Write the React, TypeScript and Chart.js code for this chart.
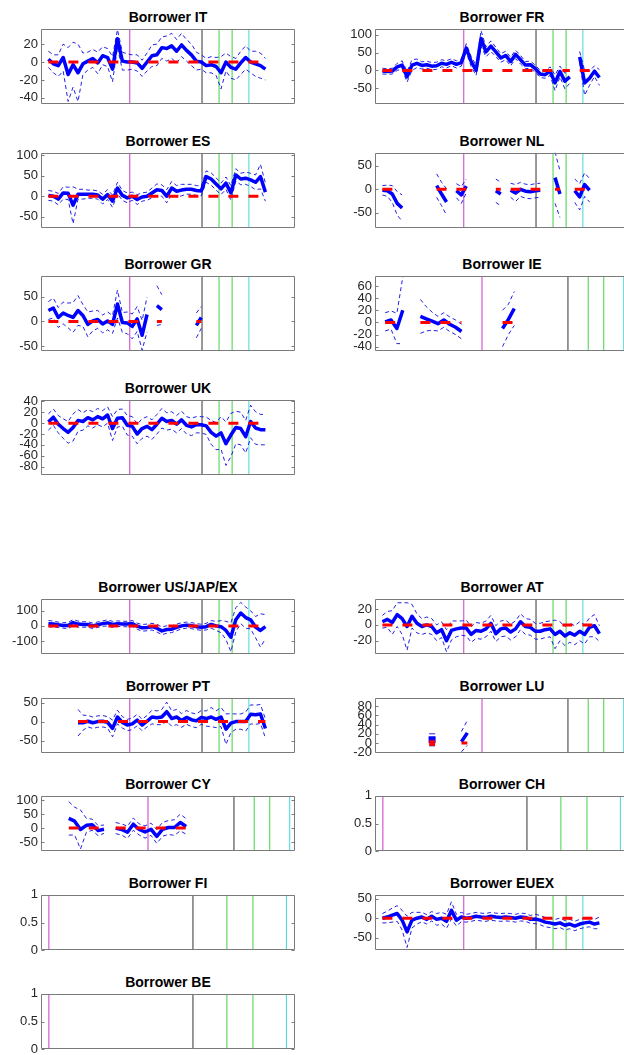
import React, { useEffect, useRef } from "react";
import { Chart, registerables } from "chart.js";
Chart.register(...registerables);

const FONT = '"Liberation Sans", Arial, Helvetica, sans-serif';

// time index (months) of the sampled estimates
const months = [3, 5, 7, 9, 11, 13, 15, 17, 19, 21, 23, 25, 27, 29, 31, 33, 35, 37, 39, 41, 43, 45, 47, 49, 51, 53, 55, 57, 59, 61, 63, 65, 67, 69, 71, 73, 75, 77, 79, 81, 83, 85, 87, 89, 91];
// event markers (months)
const eventMonths = [36, 65.3, 72.2, 77.5, 84.3];
const eventColors = ["#c83cc8", "#333333", "#44d044", "#44d044", "#44d8d8"];
const xRanges: Record<string, number[]> = { A: [0, 103], B: [-0.46, 86.1], C: [34.4, 86.05] };

const N = null;

const itEst = [3, -2, -4, 5, -14, -3, -12, -2, 1, 4, -1, 7, 5, -8, 26, 1, 0, 0, -1, -7, 0, 7, 8, 16, 15, 18, 12, 19, 13, 8, 1, 0, -4, -3, -5, -12, 0, -6, -8, -1, 5, 0, -2, -4, -8];
const itSe = [9, 10, 12, 15, 30, 25, 32, 12, 10, 10, 12, 10, 10, 14, 10, 10, 9, 8, 9, 9, 10, 12, 12, 12, 14, 14, 13, 13, 12, 12, 10, 8, 8, 9, 10, 18, 10, 12, 12, 13, 13, 12, 14, 14, 12];
const itTicks = [-40, -20, 0, 20];
const itLim = [-47, 37];

const frEst = [-2, -3, -2, 10, 15, -18, 15, 20, 14, 16, 12, 13, 20, 17, 23, 17, 22, 63, 25, 0, 90, 52, 68, 52, 35, 42, 25, 45, 30, 15, 16, 5, -10, -12, -2, -35, -3, -30, -18, N, 38, -35, -22, -2, -20];
const frSe = [8, 8, 8, 10, 12, 15, 15, 12, 10, 10, 10, 10, 10, 10, 10, 10, 10, 12, 14, 14, 22, 14, 15, 13, 12, 12, 12, 12, 12, 10, 10, 10, 10, 10, 12, 22, 15, 22, 18, N, 15, 35, 20, 15, 22];
const frTicks = [-50, 0, 50, 100];
const frLim = [-95, 117];

const esEst = [2, 0, -7, 8, 7, -22, 5, 5, 5, 5, 3, -7, 4, -12, 20, 2, -4, 0, -8, -2, 0, 8, 16, 14, 0, 20, 12, 15, 17, 17, 14, 13, 48, 42, 30, 18, 32, 8, 52, 42, 44, 40, 34, 48, 10];
const esSe = [12, 12, 14, 15, 15, 45, 12, 12, 10, 10, 10, 12, 12, 15, 14, 12, 12, 10, 12, 10, 10, 12, 14, 14, 16, 16, 14, 14, 12, 12, 12, 12, 14, 15, 15, 14, 15, 18, 15, 14, 15, 16, 18, 30, 22];
const esTicks = [-50, 0, 50, 100];
const esLim = [-78, 106];

const nlEst = [-2, -3, -10, -30, -40, N, N, N, N, N, N, 8, -10, -27, N, -3, -12, 7, N, N, N, N, N, -3, -10, N, -2, -8, 0, -4, -5, -3, -2, N, N, 25, -10, N, N, -3, -16, 10, -2, N, N];
const nlSe = [10, 12, 18, 25, 28, N, N, N, N, N, N, 25, 25, 28, N, 15, 18, 15, N, N, N, N, N, 25, 25, N, 15, 18, 15, 15, 15, 15, 15, N, N, 55, 50, N, N, 25, 28, 25, 25, N, N];
const nlTicks = [-50, 0, 50];
const nlLim = [-83, 78];

const grEst = [22, 27, 8, 17, 12, 8, 22, 12, -6, 1, 4, -5, 1, -6, 35, -2, -3, -10, 5, -28, 14, N, 32, 24, N, N, N, N, N, N, -8, 8, N, N, N, N, N, N, N, N, N, N, N, N, N];
const grSe = [18, 20, 20, 22, 25, 30, 30, 22, 25, 20, 18, 18, 18, 18, 28, 20, 22, 25, 25, 30, 35, N, 40, 30, N, N, N, N, N, N, 25, 22, N, N, N, N, N, N, N, N, N, N, N, N, N];
const grTicks = [-50, 0, 50];
const grLim = [-60, 92];

const ieEst = [1, 4, -10, 20, N, N, 10, 6, 2, -2, 4, -3, -8, -15, N, N, N, N, N, N, -10, 5, 23, N, N, N, N, N, N, N, N, N, N, N, N, N, N, N, N, N, N, N, N, N, N];
const ieSe = [15, 15, 25, 55, N, N, 28, 20, 15, 12, 12, 12, 12, 12, N, N, N, N, N, N, 30, 25, 28, N, N, N, N, N, N, N, N, N, N, N, N, N, N, N, N, N, N, N, N, N, N];
const ieTicks = [-40, -20, 0, 20, 40, 60];
const ieLim = [-47.5, 77];

const ukEst = [2, 11, -2, -10, -17, -8, 5, 3, 10, 6, 12, 8, 15, -10, 9, 10, -4, -6, -20, -10, -6, -12, -2, 9, 3, 5, -2, 6, -4, -7, -3, -3, -5, -17, -24, -18, -38, -22, -8, -10, -25, 3, -9, -12, -12];
const ukSe = [15, 15, 16, 18, 20, 25, 20, 16, 15, 15, 15, 15, 15, 22, 16, 16, 18, 18, 18, 18, 18, 18, 18, 18, 16, 16, 16, 16, 16, 16, 15, 15, 16, 22, 25, 30, 40, 40, 30, 30, 30, 30, 30, 28, 28];
const ukTicks = [-80, -60, -40, -20, 0, 20, 40];
const ukLim = [-96, 43];

const usEst = [15, 12, 7, 3, 2, 22, 12, 9, 10, 0, 8, 15, 20, 10, 15, 13, 12, 16, -2, -13, -10, -5, -15, -33, -24, -22, -10, 0, 5, 2, -5, -9, -5, 10, 0, -5, -30, -75, 40, 85, 55, 40, -8, -30, -5];
const usSe = [20, 20, 18, 18, 20, 20, 20, 18, 18, 18, 18, 18, 20, 20, 18, 18, 18, 20, 20, 22, 22, 22, 25, 25, 25, 22, 22, 20, 20, 20, 20, 20, 22, 25, 30, 40, 60, 95, 80, 70, 70, 60, 70, 110, 80];
const usTicks = [-100, 0, 100];
const usLim = [-187, 179];

const atEst = [4, 7, 3, 13, 8, -2, 11, 2, -2, 0, -2, -10, -6, -20, -7, -5, -4, -4, -12, -7, -8, -5, 2, -11, -5, -4, -9, -5, 4, -2, -3, -8, -8, -6, -5, -12, -8, -14, -10, -13, -8, -12, -3, -1, -11];
const atSe = [8, 10, 15, 15, 20, 30, 15, 12, 10, 10, 10, 10, 10, 14, 12, 10, 9, 10, 10, 10, 10, 10, 10, 10, 10, 10, 10, 10, 10, 10, 10, 10, 10, 10, 10, 18, 12, 12, 12, 12, 12, 12, 12, 14, 10];
const atTicks = [-20, 0, 20];
const atLim = [-37, 33];

const ptEst = [N, N, N, N, N, N, -3, -3, 1, -3, 0, 1, -2, -18, 12, -2, -9, -6, 4, -9, 1, 12, 10, 12, 26, 8, 12, 3, 11, 5, 2, 11, 8, 12, 6, 12, -20, -4, 0, 0, 0, 19, 18, 20, -18];
const ptSe = [N, N, N, N, N, N, 35, 20, 15, 15, 15, 15, 15, 22, 18, 15, 15, 15, 15, 15, 15, 18, 18, 20, 25, 20, 20, 18, 18, 18, 18, 18, 20, 25, 22, 25, 40, 25, 20, 20, 25, 25, 25, 25, 25];
const ptTicks = [-50, 0, 50];
const ptLim = [-83, 62.5];

const luEst = [N, N, N, N, N, N, N, N, 7, N, N, N, N, 3, 22, N, N, N, N, N, N, N, N, N, N, N, N, N, N, N, N, N, N, N, N, N, N, N, N, N, N, N, N, N, N];
const luSe = [N, N, N, N, N, N, N, N, 13, N, N, N, N, 22, 27, N, N, N, N, N, N, N, N, N, N, N, N, N, N, N, N, N, N, N, N, N, N, N, N, N, N, N, N, N, N];
const luTicks = [-20, 0, 20, 40, 60, 80];
const luLim = [-22, 98];

const cyEst = [N, N, N, 35, 25, -5, 10, 12, -9, -4, N, 0, -5, -15, 14, -5, -14, -4, -30, -4, 2, 2, 20, 6, N, N, N, N, N, N, N, N, N, N, N, N, N, N, N, N, N, N, N, N, N];
const cySe = [N, N, N, 60, 50, 70, 25, 20, 18, 15, N, 20, 20, 22, 22, 20, 22, 22, 25, 25, 25, 28, 30, 28, N, N, N, N, N, N, N, N, N, N, N, N, N, N, N, N, N, N, N, N, N];
const cyTicks = [-50, 0, 50, 100];
const cyLim = [-83, 116];

const euexEst = [0, 3, 8, 12, -5, -35, -5, 0, 3, -3, 5, -3, 0, -8, 20, -5, 3, 0, 2, 5, 3, 2, 5, 3, 2, 3, 2, 0, 3, 2, -3, -2, -5, -10, -12, -15, -12, -18, -15, -20, -15, -12, -10, -15, -12];
const euexSe = [12, 15, 18, 20, 25, 40, 20, 15, 12, 12, 12, 15, 15, 18, 22, 15, 12, 10, 10, 10, 10, 10, 10, 10, 10, 10, 10, 10, 10, 10, 10, 12, 12, 12, 12, 12, 12, 12, 12, 12, 12, 12, 12, 12, 15];
const euexTicks = [-50, 0, 50];
const euexLim = [-82, 60];

const unitTicks = [0, 0.5, 1];
const unitLim = [0, 1];

type PanelDef = {
  title: string;
  est: (number | null)[] | null;
  se: (number | null)[] | null;
  ticks: number[];
  ylim: number[];
  xr: string;
  col: number;
  top: number;
  h: number;
};

const panels: PanelDef[] = [
  { title: "Borrower IT", est: itEst, se: itSe, ticks: itTicks, ylim: itLim, xr: "A", col: 0, top: 28, h: 77 },
  { title: "Borrower FR", est: frEst, se: frSe, ticks: frTicks, ylim: frLim, xr: "A", col: 1, top: 28, h: 77 },
  { title: "Borrower ES", est: esEst, se: esSe, ticks: esTicks, ylim: esLim, xr: "A", col: 0, top: 152, h: 77 },
  { title: "Borrower NL", est: nlEst, se: nlSe, ticks: nlTicks, ylim: nlLim, xr: "A", col: 1, top: 152, h: 77 },
  { title: "Borrower GR", est: grEst, se: grSe, ticks: grTicks, ylim: grLim, xr: "A", col: 0, top: 275, h: 77 },
  { title: "Borrower IE", est: ieEst, se: ieSe, ticks: ieTicks, ylim: ieLim, xr: "B", col: 1, top: 275, h: 77 },
  { title: "Borrower UK", est: ukEst, se: ukSe, ticks: ukTicks, ylim: ukLim, xr: "A", col: 0, top: 399, h: 77 },
  { title: "Borrower US/JAP/EX", est: usEst, se: usSe, ticks: usTicks, ylim: usLim, xr: "A", col: 0, top: 598, h: 57 },
  { title: "Borrower AT", est: atEst, se: atSe, ticks: atTicks, ylim: atLim, xr: "A", col: 1, top: 598, h: 57 },
  { title: "Borrower PT", est: ptEst, se: ptSe, ticks: ptTicks, ylim: ptLim, xr: "A", col: 0, top: 697, h: 57 },
  { title: "Borrower LU", est: luEst, se: luSe, ticks: luTicks, ylim: luLim, xr: "B", col: 1, top: 697, h: 57 },
  { title: "Borrower CY", est: cyEst, se: cySe, ticks: cyTicks, ylim: cyLim, xr: "B", col: 0, top: 795, h: 57 },
  { title: "Borrower CH", est: null, se: null, ticks: unitTicks, ylim: unitLim, xr: "C", col: 1, top: 795, h: 57 },
  { title: "Borrower FI", est: null, se: null, ticks: unitTicks, ylim: unitLim, xr: "C", col: 0, top: 894, h: 57 },
  { title: "Borrower EUEX", est: euexEst, se: euexSe, ticks: euexTicks, ylim: euexLim, xr: "A", col: 1, top: 894, h: 57 },
  { title: "Borrower BE", est: null, se: null, ticks: unitTicks, ylim: unitLim, xr: "C", col: 0, top: 993, h: 57 },
];

const PLOT_W = 254;
const COL_CANVAS_LEFT = [0, 312];
const COL_PLOT_LEFT = [41, 375];
const PAD = 10;

const framePlugin = {
  id: "matlabFrame",
  afterDatasetsDraw(chart: any) {
    const { ctx, chartArea: a, scales } = chart;
    ctx.save();
    ctx.strokeStyle = "#7a7a7a";
    ctx.lineWidth = 1;
    const l = Math.round(a.left) + 0.5;
    const r = Math.round(a.right) - 0.5;
    const t = Math.round(a.top) + 0.5;
    const b = Math.round(a.bottom) - 0.5;
    ctx.beginPath();
    ctx.rect(l, t, r - l, b - t);
    const ys = scales.y;
    ys.ticks.forEach((tk: any) => {
      const py = Math.round(ys.getPixelForValue(tk.value)) + 0.5;
      ctx.moveTo(l, py);
      ctx.lineTo(l + 3, py);
      ctx.moveTo(r, py);
      ctx.lineTo(r - 3, py);
    });
    ctx.stroke();
    ctx.restore();
  },
};

function Panel({ p }: { p: PanelDef }) {
  const ref = useRef<HTMLCanvasElement>(null);
  const canvasLeft = COL_CANVAS_LEFT[p.col];
  const plotLeft = COL_PLOT_LEFT[p.col];
  const W = plotLeft - canvasLeft + PLOT_W + (p.col === 0 ? 17 : 0);
  const H = p.h + 2 * PAD;

  useEffect(() => {
    const [xmin, xmax] = xRanges[p.xr];
    const [ymin, ymax] = p.ylim;
    const toPts = (arr: (number | null)[]) => months.map((m, i) => ({ x: m, y: arr[i] }));
    const iso = (arr: (number | null)[], r: number) => (c: any) => {
      const i = c.dataIndex;
      if (arr[i] == null) return 0;
      const prev = i > 0 ? arr[i - 1] : null;
      const next = i < arr.length - 1 ? arr[i + 1] : null;
      return prev == null && next == null ? r : 0;
    };
    const datasets: any[] = [];
    eventMonths.forEach((e, k) => {
      datasets.push({
        data: [{ x: e, y: ymin }, { x: e, y: ymax }],
        borderColor: eventColors[k],
        borderWidth: 1,
        pointRadius: 0,
        order: 5,
      });
    });
    if (p.est && p.se) {
      const est = p.est;
      const se = p.se;
      const upper = est.map((v, i) => (v == null || se[i] == null ? null : v + (se[i] as number)));
      const lower = est.map((v, i) => (v == null || se[i] == null ? null : v - (se[i] as number)));
      const zero = est.map((v) => (v == null ? null : 0));
      const bandColor = "rgba(10,10,225,0.9)";
      [upper, lower].forEach((arr) => {
        datasets.push({
          data: toPts(arr),
          borderColor: bandColor,
          borderWidth: 1,
          borderDash: [4, 3],
          pointStyle: "line",
          pointBorderColor: bandColor,
          pointBorderWidth: 1,
          pointRadius: iso(arr, 3),
          order: 3,
        });
      });
      datasets.push({
        data: toPts(est),
        borderColor: "#0000ff",
        borderWidth: 3.5,
        borderJoinStyle: "round",
        pointStyle: "rect",
        pointBackgroundColor: "#0000ff",
        pointBorderColor: "#0000ff",
        pointRadius: iso(est, 2.5),
        order: 2,
      });
      datasets.push({
        data: toPts(zero),
        borderColor: "#ff0000",
        borderWidth: 3,
        borderDash: [10, 10],
        pointStyle: "rect",
        pointBackgroundColor: "#ff0000",
        pointBorderColor: "#ff0000",
        pointRadius: iso(zero, 2),
        order: 1,
      });
    }
    const chart = new Chart(ref.current as HTMLCanvasElement, {
      type: "line",
      data: { datasets },
      options: {
        animation: false,
        responsive: false,
        devicePixelRatio: 1,
        events: [],
        spanGaps: false,
        layout: { padding: { top: PAD, bottom: PAD, left: 0, right: p.col === 0 ? 17 : 0 } },
        plugins: { legend: { display: false }, tooltip: { enabled: false }, title: { display: false } },
        elements: { line: { tension: 0 } },
        scales: {
          x: { type: "linear", min: xmin, max: xmax, display: false },
          y: {
            type: "linear",
            min: ymin,
            max: ymax,
            grid: { display: false, drawTicks: false },
            border: { display: false },
            ticks: {
              autoSkip: false,
              padding: 3,
              color: "#262626",
              font: { family: FONT, size: 13 },
              callback: (v: any) => String(v),
            },
            afterBuildTicks: (s: any) => {
              s.ticks = p.ticks.map((v) => ({ value: v }));
            },
            afterFit: (s: any) => {
              s.width = plotLeft - canvasLeft;
            },
          },
        },
      } as any,
      plugins: [framePlugin],
    });
    return () => chart.destroy();
  }, []);

  return (
    <>
      <div
        style={{
          position: "absolute",
          left: plotLeft,
          width: PLOT_W,
          top: p.top - 19,
          height: 16,
          lineHeight: "16px",
          textAlign: "center",
          fontFamily: FONT,
          fontWeight: "bold",
          fontSize: 14,
          color: "#000",
          whiteSpace: "nowrap",
        }}
      >
        {p.title}
      </div>
      <canvas
        ref={ref}
        width={W}
        height={H}
        style={{ position: "absolute", left: canvasLeft, top: p.top - PAD, width: W, height: H }}
      />
    </>
  );
}

export default function App() {
  return (
    <div
      style={{
        position: "absolute",
        left: 0,
        top: 0,
        width: 624,
        height: 1055,
        overflow: "hidden",
        background: "#fff",
      }}
    >
      {panels.map((p) => (
        <Panel key={p.title} p={p} />
      ))}
    </div>
  );
}
